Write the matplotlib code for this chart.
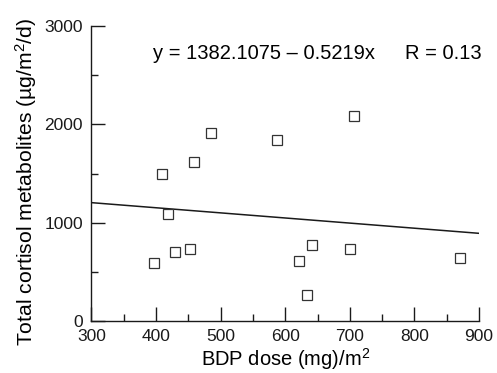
import matplotlib
matplotlib.use("Agg")
import matplotlib.pyplot as plt
from matplotlib.ticker import MultipleLocator

plt.rcParams['font.family'] = ['Liberation Sans', 'DejaVu Sans']
plt.rcParams['mathtext.default'] = 'regular'

dose = [397, 409, 419, 430, 453, 458, 485, 587, 621, 634, 641, 700, 707, 871]
cortisol = [592, 1492, 1086, 708, 738, 1621, 1912, 1845, 612, 271, 778, 734, 2088, 647]
fit_x = [300, 900]
fit_y = [1205, 893]
equation = "y = 1382.1075 – 0.5219x"
r_text = "R = 0.13"

fig = plt.figure(figsize=(4.97, 3.73), dpi=100)
ax = fig.add_axes([0.184, 0.139, 0.780, 0.791])
ax.plot(fit_x, fit_y, color='#1a1a1a', lw=1.1)
ax.plot(dose, cortisol, linestyle='none', marker='s', markersize=6.5,
        markerfacecolor='white', markeredgecolor='#333333', markeredgewidth=0.9)

ax.set_xlim(300, 900)
ax.set_ylim(0, 3000)
ax.xaxis.set_major_locator(MultipleLocator(100))
ax.xaxis.set_minor_locator(MultipleLocator(50))
ax.yaxis.set_major_locator(MultipleLocator(1000))
ax.yaxis.set_minor_locator(MultipleLocator(500))
ax.tick_params(which='both', direction='in', colors='#1a1a1a', labelsize=12.5, width=1)
ax.tick_params(which='major', length=10, pad=6)
ax.tick_params(which='minor', length=5)
for s in ['top', 'right']:
    ax.spines[s].set_visible(False)
for s in ['left', 'bottom']:
    ax.spines[s].set_color('#1a1a1a')
    ax.spines[s].set_linewidth(1)

ax.set_xlabel("BDP dose (mg)/m$^2$", fontsize=14.5, labelpad=1.5)
ax.set_ylabel("Total cortisol metabolites (µg/m$^2$/d)", fontsize=15.2)
ax.yaxis.set_label_coords(-0.135, 0.473)
ax.text(0.159, 0.907, equation, transform=ax.transAxes, fontsize=14.5, va='center')
ax.text(0.809, 0.907, r_text, transform=ax.transAxes, fontsize=14.5, va='center')

fig.savefig("out.png", dpi=100)
